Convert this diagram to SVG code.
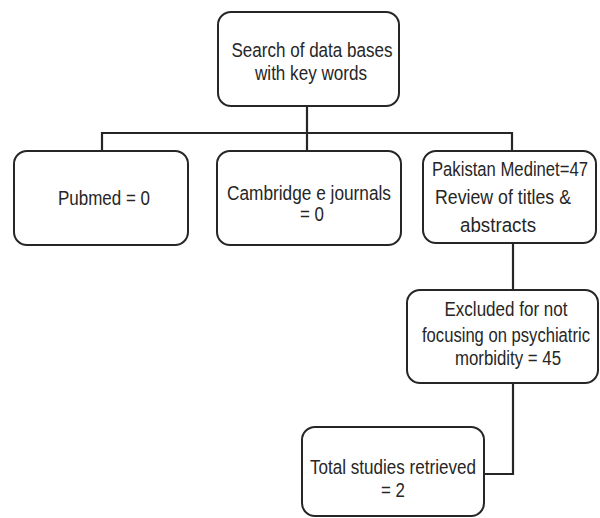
<svg xmlns="http://www.w3.org/2000/svg" width="600" height="518" viewBox="0 0 600 518">
<style>
.box{fill:#fff;stroke:#262626;stroke-width:2}
.t{font-family:"Liberation Sans",Arial,sans-serif;font-size:20.5px;fill:#262626;text-anchor:middle}
.c{fill:none;stroke:#262626;stroke-width:2.2}
</style>
<rect width="600" height="518" fill="#fff"/>
<g id="connectors">
<path class="c" d="M307 106V133M102 151V133H512V151M307 133V151"/>
<path class="c" d="M513 243V290"/>
<path class="c" d="M513 383V474H484"/>
</g>
<g id="search">
<rect class="box" x="218" y="12" width="181" height="94" rx="13"/>
<text class="t" x="312" y="57" textLength="161" lengthAdjust="spacingAndGlyphs">Search of data bases</text>
<text class="t" x="311" y="80" textLength="112" lengthAdjust="spacingAndGlyphs">with key words</text>
</g>
<g id="pubmed">
<rect class="box" x="14" y="151" width="174" height="94" rx="13"/>
<text class="t" x="104" y="205" textLength="92" lengthAdjust="spacingAndGlyphs">Pubmed = 0</text>
</g>
<g id="cambridge">
<rect class="box" x="217" y="151" width="184" height="94" rx="13"/>
<text class="t" x="309" y="200" textLength="164" lengthAdjust="spacingAndGlyphs">Cambridge e journals</text>
<text class="t" x="312" y="221" textLength="24" lengthAdjust="spacingAndGlyphs">= 0</text>
</g>
<g id="pakistan">
<rect class="box" x="423" y="151" width="173" height="92" rx="13"/>
<text class="t" x="510" y="176" textLength="156" lengthAdjust="spacingAndGlyphs">Pakistan Medinet=47</text>
<text class="t" x="503" y="204" textLength="136" lengthAdjust="spacingAndGlyphs">Review of titles &amp;</text>
<text class="t" x="498" y="232" textLength="76" lengthAdjust="spacingAndGlyphs">abstracts</text>
</g>
<g id="excluded">
<rect class="box" x="407" y="290" width="191" height="93" rx="13"/>
<text class="t" x="506" y="316" textLength="123" lengthAdjust="spacingAndGlyphs">Excluded for not</text>
<text class="t" x="506" y="342" textLength="168" lengthAdjust="spacingAndGlyphs">focusing on psychiatric</text>
<text class="t" x="508" y="365" textLength="106" lengthAdjust="spacingAndGlyphs">morbidity = 45</text>
</g>
<g id="total">
<rect class="box" x="302" y="427" width="182" height="89" rx="13"/>
<text class="t" x="393" y="474" textLength="166" lengthAdjust="spacingAndGlyphs">Total studies retrieved</text>
<text class="t" x="393" y="497" textLength="24" lengthAdjust="spacingAndGlyphs">= 2</text>
</g>
</svg>
